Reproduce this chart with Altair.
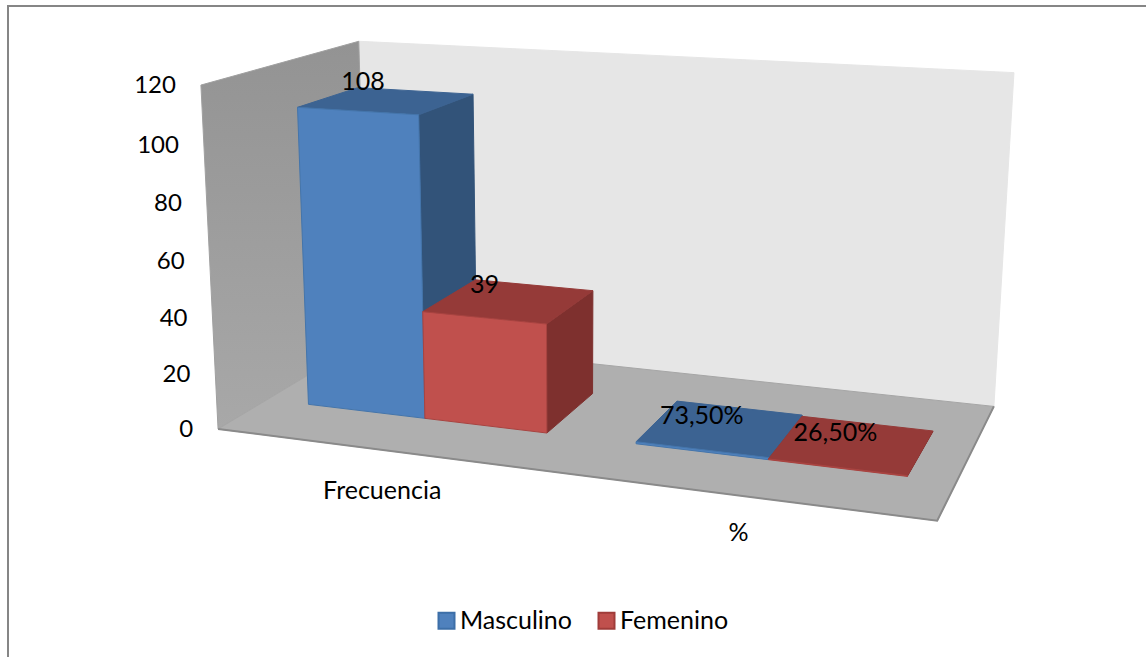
import numpy as np
import pandas as pd
import altair as alt

# Chart values
categories = ["Frecuencia", "%"]
series = ["Masculino", "Femenino"]
masculino = [108, 0.735]
femenino = [39, 0.265]
value_labels = [["108", "73,50%"], ["39", "26,50%"]]
ticks = [0, 20, 40, 60, 80, 100, 120]

WIDTH, HEIGHT = 1146, 657
FONT = "Lato"
FONT_SIZE = 25

# Camera calibration: box corners (along, depth, height/120) and where they land
box_corners = [(0, 0, 0), (1, 0, 0), (0, 1, 0), (1, 1, 0), (0, 0, 1), (0, 1, 1), (1, 1, 1)]
box_screen = [(222, 428), (937, 522), (363, 341), (995, 405), (197, 85), (363, 41), (1013, 73)]


def fit_camera(corners, screen):
    rows, rhs = [], []
    for (a, b, c), (u, v) in zip(corners, screen):
        rows.append([a, b, c, 1, 0, 0, 0, 0, -u * a, -u * b, -u * c])
        rows.append([0, 0, 0, 0, a, b, c, 1, -v * a, -v * b, -v * c])
        rhs += [u, v]
    p = np.linalg.lstsq(np.array(rows, float), np.array(rhs, float), rcond=None)[0]
    return np.append(p, 1).reshape(3, 4)


CAMERA = fit_camera(box_corners, box_screen)


def project(along, depth, value):
    h = CAMERA @ np.array([along, depth, value / 120, 1.0])
    return h[0] / h[2], h[1] / h[2]


# Bar footprint in box units
BAR_WIDTH = 0.185
GROUP_OFFSET = 0.067
DEPTH_FRONT, DEPTH_BACK = 0.3, 0.7

x_scale = alt.Scale(domain=[0, WIDTH], range=[0, WIDTH], nice=False, zero=False)
y_scale = alt.Scale(domain=[0, HEIGHT], range=[0, HEIGHT], nice=False, zero=False)


def polygon(points, fill=None, stroke=None, stroke_width=1.0, closed=True):
    pts = list(points) + ([points[0]] if closed else [])
    df = pd.DataFrame({"px": [p[0] for p in pts], "py": [p[1] for p in pts], "i": range(len(pts))})
    opts = {"strokeWidth": stroke_width, "clip": False}
    opts["stroke"] = stroke if stroke else "transparent"
    if fill is not None:
        opts["fill"] = fill
    return alt.Chart(df).mark_line(**opts).encode(
        x=alt.X("px:Q", scale=x_scale, axis=None),
        y=alt.Y("py:Q", scale=y_scale, axis=None),
        order="i:Q",
    )


def wall_gradient(top, bottom):
    return alt.Gradient(
        gradient="linear", x1=0, x2=0, y1=0, y2=1,
        stops=[alt.GradientStop(color=top, offset=0), alt.GradientStop(color=bottom, offset=1)],
    )


layers = []

# Page frame, open towards the right and bottom
layers.append(polygon([(8, HEIGHT), (8, 6), (WIDTH, 6)], stroke="#868686", stroke_width=2, closed=False))

# Walls and floor
layers.append(polygon(
    [project(0, 1, 0), project(1, 1, 0), project(1, 1, 120), project(0, 1, 120)],
    fill="#e6e6e6", stroke="#e6e6e6"))
layers.append(polygon(
    [project(0, 0, 0), project(0, 1, 0), project(0, 1, 120), project(0, 0, 120)],
    fill=wall_gradient("#939393", "#a8a8a8"), stroke="#a0a0a0"))
layers.append(polygon(
    [project(0, 0, 0), project(1, 0, 0), project(1, 1, 0), project(0, 1, 0)],
    fill="#afafaf", stroke="#a6a6a6"))
layers.append(polygon(
    [project(0, 0, 0), project(1, 0, 0), project(1, 1, 0)],
    stroke="#8a8a8a", stroke_width=2, closed=False))

# Bar faces, painted back to front
shades = {
    "Masculino": {"front": "#4f81bd", "top": "#3c6392", "side": "#325379", "edge": "#4475ab"},
    "Femenino": {"front": "#c0504d", "top": "#953a38", "side": "#7e302e", "edge": "#a84340"},
}

label_rows = []
label_shift = [[(-24, -19), (-19, -12)], [(-25, -16), (-17, -12)]]
for c in range(len(categories)):
    start = c * 0.5 + GROUP_OFFSET
    for s, (name, values) in enumerate(zip(series, [masculino, femenino])):
        a0, a1 = start + s * BAR_WIDTH, start + (s + 1) * BAR_WIDTH
        v = values[c]
        col = shades[name]
        layers.append(polygon(
            [project(a1, DEPTH_FRONT, 0), project(a1, DEPTH_BACK, 0), project(a1, DEPTH_BACK, v), project(a1, DEPTH_FRONT, v)],
            fill=col["side"], stroke=col["side"]))
        layers.append(polygon(
            [project(a0, DEPTH_FRONT, v), project(a1, DEPTH_FRONT, v), project(a1, DEPTH_BACK, v), project(a0, DEPTH_BACK, v)],
            fill=col["top"], stroke=col["top"]))
        layers.append(polygon(
            [project(a0, DEPTH_FRONT, 0), project(a1, DEPTH_FRONT, 0), project(a1, DEPTH_FRONT, v), project(a0, DEPTH_FRONT, v)],
            fill=col["front"], stroke=col["edge"]))
        cx, cy = project((a0 + a1) / 2, (DEPTH_FRONT + DEPTH_BACK) / 2, v)
        dx, dy = label_shift[s][c]
        label_rows.append({"px": cx + dx, "py": cy + dy, "text": value_labels[s][c]})


def text_layer(rows, align="center", size=FONT_SIZE):
    return alt.Chart(pd.DataFrame(rows)).mark_text(
        font=FONT, fontSize=size, color="#000000", align=align, baseline="middle"
    ).encode(
        x=alt.X("px:Q", scale=x_scale, axis=None),
        y=alt.Y("py:Q", scale=y_scale, axis=None),
        text="text:N",
    )


layers.append(text_layer(label_rows))

# Value axis labels follow the front edge of the left wall
tick_rows = []
for t in ticks:
    px, py = project(0, 0, t)
    tick_rows.append({"px": px - 25, "py": py + 1, "text": str(t)})
layers.append(text_layer(tick_rows, align="right", size=24))

# Category labels sit below the front edge of the floor
cat_rows = []
for i, name in enumerate(categories):
    px, py = project(0.25 + i * 0.5, 0, 0)
    cat_rows.append({"px": px + 2 - 2 * i, "py": py + 41 - 3 * i, "text": name})
layers.append(text_layer(cat_rows))

# Legend, carried by a zero-size layer tied to the series colours
legend_df = pd.DataFrame({"series": series, "px": [0, 0], "py": [0, 0]})
legend = alt.Legend(
    title=None, orient="none", legendX=434, legendY=608, direction="horizontal", columns=2,
    symbolType="square", symbolSize=256, symbolStrokeWidth=2, symbolOpacity=1,
    labelFont=FONT, labelFontSize=FONT_SIZE, labelColor="#000000",
    columnPadding=22, labelOffset=1,
)
layers.append(alt.Chart(legend_df).mark_square(size=0, opacity=1).encode(
    x=alt.X("px:Q", scale=x_scale, axis=None),
    y=alt.Y("py:Q", scale=y_scale, axis=None),
    fill=alt.Fill("series:N", sort=series, legend=legend,
                  scale=alt.Scale(domain=series, range=["#4f81bd", "#c0504d"])),
    stroke=alt.Stroke("series:N", sort=series, legend=legend,
                      scale=alt.Scale(domain=series, range=["#3d6fa8", "#a03c3a"])),
))

chart = alt.layer(*layers).properties(
    width=WIDTH, height=HEIGHT, padding=0, background="white",
    autosize=alt.AutoSizeParams(type="none"),
).configure_view(stroke=None)

chart.save("out.html", embed_options={"renderer": "svg", "actions": False})
